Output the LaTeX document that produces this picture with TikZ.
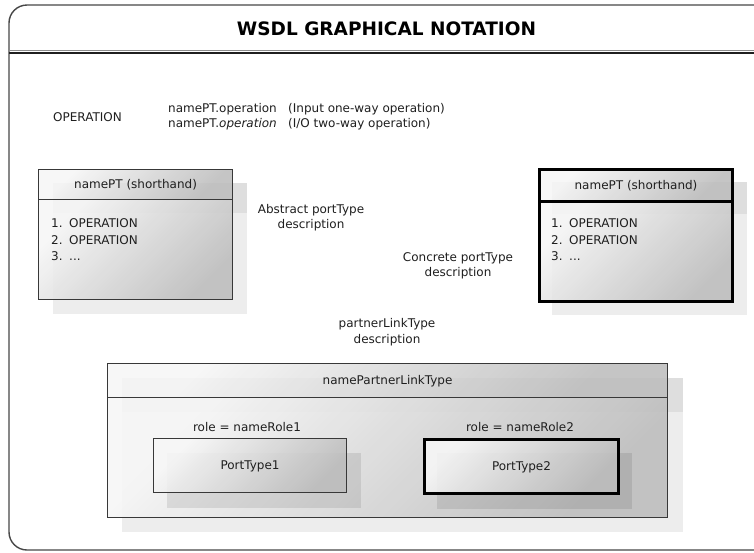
\documentclass[tikz,border=0pt]{standalone}
\usepackage{fontspec}
\setmainfont{DejaVu Sans}
\begin{document}
\begin{tikzpicture}[x=1pt,y=-1pt,
  % text nodes are placed by the vertical centre of their capitals
  txt/.style={inner sep=0pt, text height=8.75pt, text depth=0pt,
    font=\fontsize{12}{15}\selectfont, text=black!88},
  frameline/.style={draw=black!72, line width=1.4pt},
  shadowhead/.style={fill=black!13},
  shadowbody/.style={fill=black!7},
  innershadow/.style={fill=black, fill opacity=0.09},
  panel/.style={txt, anchor=north west, draw=black!78, line width=1.1pt,
    top color=black!3, bottom color=black!26, shading angle=45,
    fill opacity=0.88, text opacity=1},
  bold/.style={draw=black, line width=3pt},
]
\useasboundingbox (0,0) rectangle (754,552);
\clip (0,0) rectangle (754,552);
\fill[white] (0,0) rectangle (754,552);

% outer frame and title bar
\draw[frameline, rounded corners=18pt] (9,550) -- (9,5) -- (772,5) -- (772,550) -- cycle;
\draw[black!45, line width=0.8pt] (9,50.6) -- (772,50.6);
\draw[black!88, line width=1.8pt] (9,52.6) -- (772,52.6);
\node[txt, font=\bfseries\fontsize{18.5}{20}\selectfont, text height=13.5pt, text=black]
  (title) at (386.5,28.7) {WSDL GRAPHICAL NOTATION};

% legend of operation notation
\node[txt] (op) at (87.5,117.5) {OPERATION};
\node[txt, anchor=west] (n1) at (168,108.3) {namePT.operation};
\node[txt, anchor=west] (c1) at (288,108.3) {(Input one-way operation)};
\node[txt, anchor=west] (n2) at (168,123.3) {namePT.\textit{operation}};
\node[txt, anchor=west] (c2) at (288,123.3) {(I/O two-way operation)};

% abstract portType (thin border)
\fill[shadowbody] (53,213) rectangle (247,314);
\fill[shadowhead] (53,183) rectangle (247,213);
\node[panel, minimum width=194pt, minimum height=30pt] (lh) at (38,169) {namePT (shorthand)};
\node[panel, minimum width=194pt, minimum height=100pt] (lb) at (38,199) {};
\node[txt, anchor=west] (la) at (51,223) {\makebox[18pt][l]{1.}OPERATION};
\node[txt, anchor=west] (lc) at (51,240) {\makebox[18pt][l]{2.}OPERATION};
\node[txt, anchor=west] (ld) at (51,256) {\makebox[18pt][l]{3.}...};

\node[txt] (abs1) at (311,209) {Abstract portType};
\node[txt] (abs2) at (311,224) {description};

% concrete portType (bold border)
\fill[shadowbody] (552,214) rectangle (747,315);
\fill[shadowhead] (552,182) rectangle (747,214);
\node[panel, bold, minimum width=193pt, minimum height=32pt] (rh) at (538,168) {namePT (shorthand)};
\node[panel, bold, minimum width=193pt, minimum height=100pt] (rb) at (538,200) {};
\node[txt, anchor=west] (ra) at (551,223) {\makebox[18pt][l]{1.}OPERATION};
\node[txt, anchor=west] (rc) at (551,240) {\makebox[18pt][l]{2.}OPERATION};
\node[txt, anchor=west] (rd) at (551,256) {\makebox[18pt][l]{3.}...};

\node[txt] (con1) at (458,257) {Concrete portType};
\node[txt] (con2) at (458,272) {description};

% partnerLinkType
\node[txt] (pl1) at (387,323) {partnerLinkType};
\node[txt] (pl2) at (387,339) {description};

\fill[shadowbody] (122,412) rectangle (683,532);
\fill[shadowhead] (122,378) rectangle (683,412);
\node[panel, minimum width=560pt, minimum height=34pt] (bh) at (107,363) {namePartnerLinkType};
\node[panel, minimum width=560pt, minimum height=120pt] (bb) at (107,397) {};

\node[txt] (r1) at (247,427) {role = nameRole1};
\node[txt] (r2) at (520,427) {role = nameRole2};

\fill[innershadow] (167,453) rectangle (361,508);
\fill[innershadow] (437,453) rectangle (632,509);
\node[panel, minimum width=193pt, minimum height=54pt] (p1) at (153,438) {};
\node[txt] (p1t) at (p1.center) {PortType1};
\node[panel, bold, minimum width=194pt, minimum height=54pt] (p2) at (423,438) {};
\node[txt] (p2t) at (p2.center) {PortType2};
\end{tikzpicture}
\end{document}
